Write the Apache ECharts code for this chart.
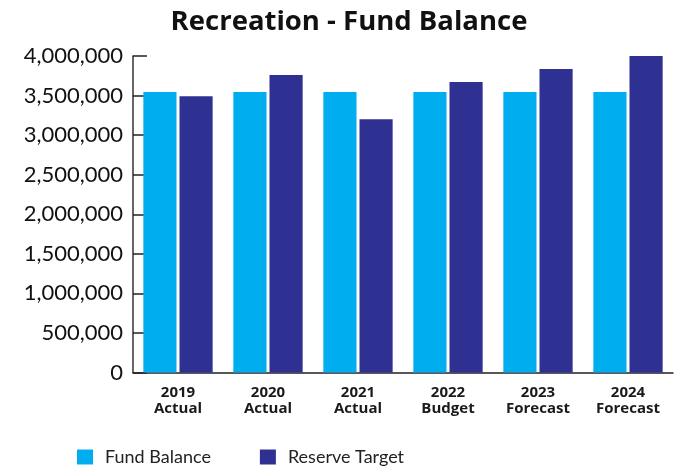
<!DOCTYPE html>
<html>
<head>
<meta charset="utf-8">
<script src="https://cdn.jsdelivr.net/npm/echarts@6/dist/echarts.min.js"></script>
<style>
  html, body { margin: 0; padding: 0; background: #fff; }
  #chart { width: 677px; height: 466px; }
</style>
</head>
<body>
<div id="chart"></div>
<script>
// Recreation fund: balance vs reserve target by year
const years = ['2019', '2020', '2021', '2022', '2023', '2024'];
const stages = ['Actual', 'Actual', 'Actual', 'Budget', 'Forecast', 'Forecast'];
const fundBalance = [3545000, 3545000, 3545000, 3545000, 3545000, 3545000];
const reserveTarget = [3490000, 3760000, 3200000, 3670000, 3835000, 4000000];
const seriesNames = ['Fund Balance', 'Reserve Target'];

const categories = years.map((y, i) => y + '\n' + stages[i]);
const FONT = 'Lato, "Open Sans", sans-serif';
const WIDE = '"Open Sans", Lato, sans-serif';

const chart = echarts.init(document.getElementById('chart'), null, { renderer: 'canvas' });
chart.setOption({
  animation: false,
  backgroundColor: '#ffffff',
  title: {
    text: 'Recreation - Fund Balance',
    left: 344,
    top: 3,
    textAlign: 'center',
    textStyle: { fontFamily: WIDE, fontSize: 27.5, fontWeight: 'bold', color: '#111' }
  },
  legend: {
    left: 72,
    top: 443,
    icon: 'rect',
    itemWidth: 16,
    itemHeight: 15,
    itemGap: 49,
    data: seriesNames,
    textStyle: { fontFamily: FONT, fontSize: 18, color: '#222', padding: [0, 0, 0, 7] }
  },
  grid: { left: 133, right: 4, top: 56, bottom: 93.5 },
  xAxis: {
    type: 'category',
    data: categories,
    axisLine: { lineStyle: { color: '#222', width: 1.5 } },
    axisTick: { inside: true, length: 5, lineStyle: { color: '#222', width: 1 } },
    axisLabel: {
      margin: 12,
      fontFamily: WIDE, fontSize: 15, fontWeight: 'bold', color: '#1a1a1a', lineHeight: 16
    }
  },
  yAxis: {
    type: 'value',
    min: 0,
    max: 4000000,
    interval: 500000,
    splitLine: { show: false },
    axisLine: { show: true, lineStyle: { color: '#333', width: 1.5 } },
    axisTick: { show: true, inside: true, length: 14, lineStyle: { color: '#222', width: 1.5 } },
    axisLabel: {
      margin: 10,
      fontFamily: FONT, fontSize: 22, color: '#111',
      formatter: v => v.toLocaleString('en-US')
    }
  },
  series: [
    {
      name: seriesNames[0],
      type: 'bar',
      data: fundBalance,
      itemStyle: { color: '#00AEEF' },
      barGap: '9%',
      barCategoryGap: '23%'
    },
    {
      name: seriesNames[1],
      type: 'bar',
      data: reserveTarget,
      itemStyle: { color: '#2E3192' },
      barGap: '9%',
      barCategoryGap: '23%'
    }
  ]
});
</script>
</body>
</html>
